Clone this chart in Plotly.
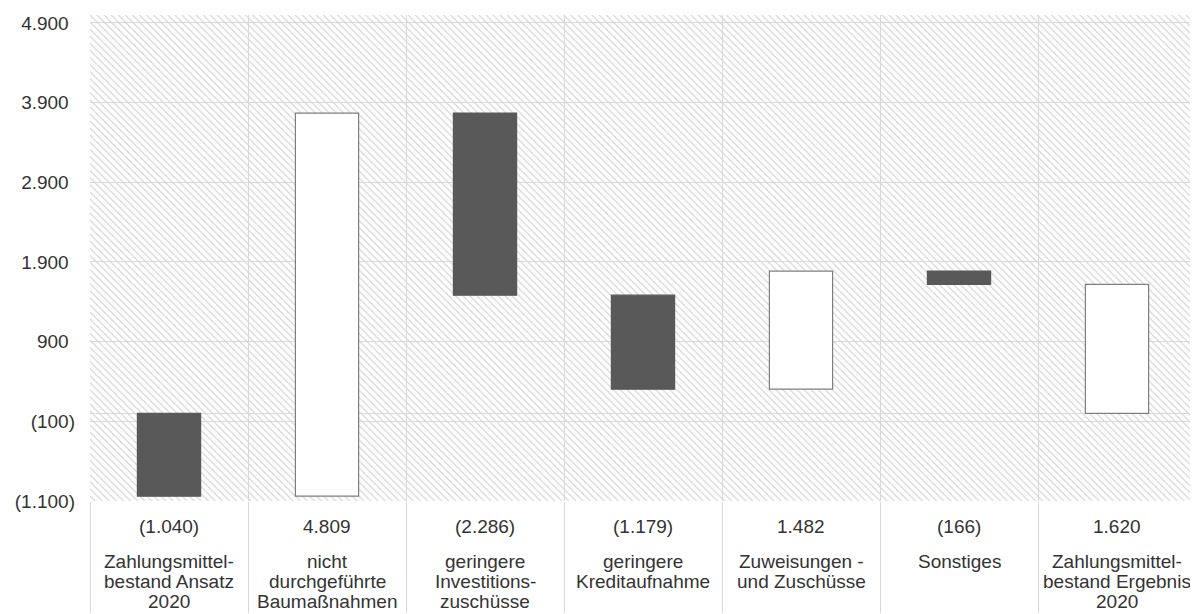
import plotly.graph_objects as go

categories = [
    "Zahlungsmittel-<br>bestand Ansatz<br>2020",
    "nicht<br>durchgeführte<br>Baumaßnahmen",
    "geringere<br>Investitions-<br>zuschüsse",
    "geringere<br>Kreditaufnahme",
    "Zuweisungen -<br>und Zuschüsse",
    "Sonstiges",
    "Zahlungsmittel-<br>bestand Ergebnis<br>2020",
]
values = [-1040, 4809, -2286, -1179, 1482, -166, 1620]
is_total = [False, False, False, False, False, False, True]
value_labels = ["(1.040)", "4.809", "(2.286)", "(1.179)", "1.482", "(166)", "1.620"]

y_ticks = [-1100, -100, 900, 1900, 2900, 3900, 4900]
y_tick_labels = ["(1.100)", "(100)", "900", "1.900", "2.900", "3.900", "4.900"]
y_min, y_max = -1100, 5000

FONT = dict(family="Liberation Sans, Arial, sans-serif", size=19, color="#333333")
GRID = "#d9d9d9"
DARK = "#595959"

# floating bars: each step starts where the previous one ended
bases = []
running = 0
for v, tot in zip(values, is_total):
    if tot:
        bases.append(0)
    else:
        bases.append(running)
        running += v

fill = [DARK if (v < 0 and not t) else "white" for v, t in zip(values, is_total)]
edge = [DARK if (v < 0 and not t) else "#7f7f7f" for v, t in zip(values, is_total)]

# accounting-style labels: positives keep room for the closing bracket
pad = "<span style='color:rgba(0,0,0,0)'>)</span>"
y_tick_text = [t if t.endswith(")") else t + pad for t in y_tick_labels]

fig = go.Figure()

# hatched plot background
fig.add_trace(go.Bar(
    x=categories,
    y=[y_max - y_min] * len(categories),
    base=[y_min] * len(categories),
    width=1, offset=-0.5,
    marker=dict(
        color="rgba(0,0,0,0)",
        line=dict(width=0),
        pattern=dict(shape="\\", fgcolor="#d6d6d6", bgcolor="rgba(0,0,0,0)",
                     size=5, solidity=0.25, fillmode="replace"),
    ),
    hoverinfo="skip", showlegend=False,
))

fig.add_trace(go.Bar(
    x=categories, y=values, base=bases,
    width=0.4, offset=-0.2,
    marker=dict(color=fill, line=dict(color=edge, width=1.2)),
    showlegend=False, hoverinfo="skip",
))

# table below the plot: value row, then label lines
for cat, lab in zip(categories, value_labels):
    fig.add_annotation(x=cat, y=0, yref="paper", text=lab, showarrow=False,
                       yanchor="middle", yshift=-25, font=FONT)
    for i, line in enumerate(cat.split("<br>")):
        fig.add_annotation(x=cat, y=0, yref="paper", text=line, showarrow=False,
                           yanchor="middle", yshift=-60 - 20 * i, font=FONT)

fig.update_layout(
    width=1190, height=606,
    margin=dict(l=82, r=2, t=7, b=111),
    paper_bgcolor="white", plot_bgcolor="white",
    font=FONT,
    barmode="overlay",
    xaxis=dict(type="category", range=[-0.5, 6.5], showticklabels=False,
               tickson="boundaries", ticks="outside", ticklen=111,
               tickcolor=GRID, tickwidth=1,
               showgrid=True, gridcolor=GRID, gridwidth=1, showline=False),
    yaxis=dict(range=[y_min, y_max], tickvals=y_ticks, ticktext=y_tick_text,
               showgrid=True, gridcolor=GRID, gridwidth=1,
               zeroline=True, zerolinecolor=GRID, zerolinewidth=1,
               showline=False, ticks="", ticklabelstandoff=14),
)

fig.write_html("out.html")
